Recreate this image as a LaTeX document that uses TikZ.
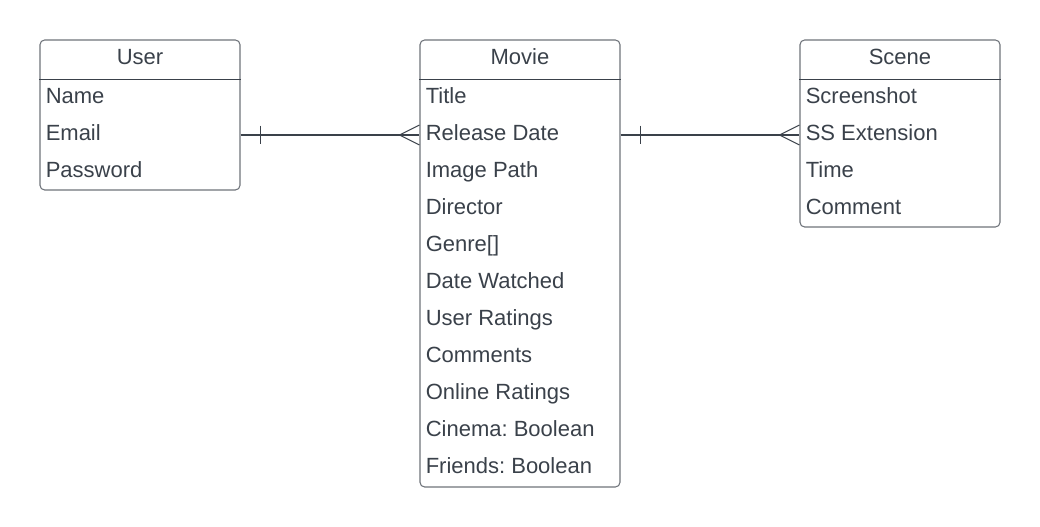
\documentclass[tikz,border=0pt]{standalone}
\usepackage{fontspec}
\setmainfont{Liberation Sans}
\usetikzlibrary{positioning}
\definecolor{ink}{HTML}{3A414A}
\definecolor{frame}{HTML}{6E737A}
\frenchspacing

\begin{document}
\begin{tikzpicture}[
    x=0.75pt, y=-0.75pt,
    entity/.style={draw=frame, line width=0.8pt, rounded corners=3.5pt, minimum width=150pt, inner sep=0pt},
    head/.style={text=ink, font=\fontsize{16.5}{19}\selectfont, inner sep=0pt, text height=11.8pt, text depth=3pt},
    row/.style={head, anchor=west},
    sep/.style={draw=ink, line width=0.7pt},
    link/.style={draw=ink, line width=0.8pt},
]
    \useasboundingbox (0,0) rectangle (1040,527);

    % entities
    \node[entity, minimum height=112.5pt] (user)  at (140,115)   {};
    \node[entity, minimum height=335.25pt] (movie) at (520,263.5) {};
    \node[entity, minimum height=140.25pt] (scene) at (900,133.5) {};

    % headers
    \node[head] (usertitle)  at ([yshift=-14.5pt]user.north)  {User};
    \node[head] (movietitle) at ([yshift=-14.5pt]movie.north) {Movie};
    \node[head] (scenetitle) at ([yshift=-14.5pt]scene.north) {Scene};
    \draw[sep] ([yshift=-30pt]user.north west)  -- ([yshift=-30pt]user.north east);
    \draw[sep] ([yshift=-30pt]movie.north west) -- ([yshift=-30pt]movie.north east);
    \draw[sep] ([yshift=-30pt]scene.north west) -- ([yshift=-30pt]scene.north east);

    % User fields
    \node[row] (uname)  at (45.5,98)  {Name};
    \node[row] (uemail) at (45.5,135) {Email};
    \node[row] (upass)  at (45.5,172) {Password};

    % Movie fields
    \node[row] (mtitle)   at (425.5,98)  {Title};
    \node[row] (mrelease) at (425.5,135) {Release Date};
    \node[row] (mimage)   at (425.5,172) {Image Path};
    \node[row] (mdirect)  at (425.5,209) {Director};
    \node[row] (mgenre)   at (425.5,246) {Genre[]};
    \node[row] (mdate)    at (425.5,283) {Date Watched};
    \node[row] (muser)    at (425.5,320) {User Ratings};
    \node[row] (mcomm)    at (425.5,357) {Comments};
    \node[row] (monline)  at (425.5,394) {Online Ratings};
    \node[row] (mcinema)  at (425.5,431) {Cinema: Boolean};
    \node[row] (mfriend)  at (425.5,468) {Friends: Boolean};

    % Scene fields
    \node[row] (sshot) at (805.5,98)  {Screenshot};
    \node[row] (sext)  at (805.5,135) {SS Extension};
    \node[row] (stime) at (805.5,172) {Time};
    \node[row] (scomm) at (805.5,209) {Comment};

    % User -- Movie (one to many)
    \coordinate (um1) at (user.east |- uemail);
    \coordinate (um2) at (movie.west |- mrelease);
    \draw[link] (um1) -- (um2);
    \draw[link] ([xshift=15pt,yshift=7pt]um1) -- ([xshift=15pt,yshift=-7pt]um1);
    \draw[link] ([xshift=-15pt]um2) -- ([yshift=7.5pt]um2);
    \draw[link] ([xshift=-15pt]um2) -- ([yshift=-7.5pt]um2);

    % Movie -- Scene (one to many)
    \coordinate (ms1) at (movie.east |- mrelease);
    \coordinate (ms2) at (scene.west |- sext);
    \draw[link] (ms1) -- (ms2);
    \draw[link] ([xshift=15pt,yshift=7pt]ms1) -- ([xshift=15pt,yshift=-7pt]ms1);
    \draw[link] ([xshift=-15pt]ms2) -- ([yshift=7.5pt]ms2);
    \draw[link] ([xshift=-15pt]ms2) -- ([yshift=-7.5pt]ms2);
\end{tikzpicture}
\end{document}
